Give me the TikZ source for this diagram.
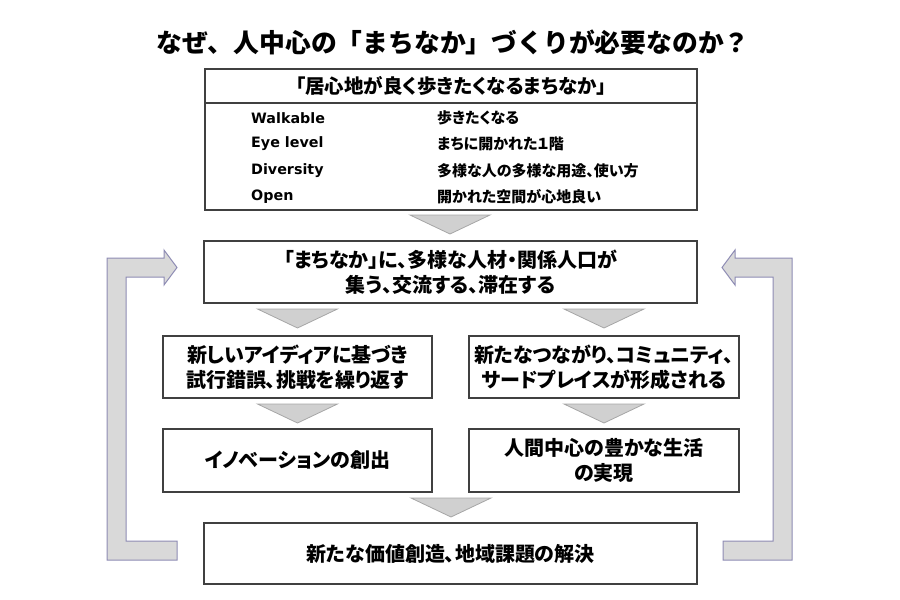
\documentclass[tikz,border=0pt]{standalone}
\usepackage{fontspec}
\setmainfont{Noto Sans CJK JP}[RawFeature=+palt]
\newfontfamily\fullwidth{Noto Sans CJK JP}
\newfontfamily\latinfont{DejaVu Sans}
\usepackage{tikz}
\usetikzlibrary{positioning}
\definecolor{boxline}{HTML}{404040}
\definecolor{trifill}{HTML}{D0D0D0}
\definecolor{triline}{HTML}{A6A6A6}
\definecolor{loopfill}{HTML}{D9D9D9}
\definecolor{loopline}{HTML}{8E8CB4}
\tikzstyle{flowbox}=[rectangle, draw=boxline, line width=1.4pt, fill=white, align=center, inner sep=0pt, font=\fontsize{20}{25}\selectfont\bfseries]
\newcommand{\flowbox}{\node[flowbox]}
\tikzstyle{chevron}=[draw=triline, fill=trifill, line width=0.8pt]
\tikzstyle{loop}=[draw=loopline, fill=loopfill, line width=1pt]

\begin{document}
\begin{tikzpicture}[x=1pt, y=-1pt]
                    \useasboundingbox (0,0) rectangle (900,600);
                    \node (title) at (453,42) [font=\fullwidth\fontsize{25.8}{30}\selectfont\bfseries] {なぜ、人中心の「まちなか」づくりが必要なのか？};
                    % feedback loops
                    \draw[loop] (107,560) -- (177,560) -- (177,541) -- (126,541) -- (126,277) -- (164,277) -- (164,285) -- (177,267.5) -- (164,250) -- (164,258) -- (107,258) -- cycle;
                    \draw[loop] (792,560) -- (723,560) -- (723,541) -- (773,541) -- (773,277) -- (735,277) -- (735,285) -- (722,267.5) -- (735,250) -- (735,258) -- (792,258) -- cycle;
                    % boxes
                    \flowbox (head) at (451,86) [minimum width=492pt, minimum height=34pt, font=\fontsize{19.5}{22}\selectfont\bfseries] {「居心地が良く歩きたくなるまちなか」};
                    \flowbox (list) at (451,156.5) [minimum width=492pt, minimum height=107pt] {};
                    \foreach \en/\jp/\y in {Walkable/歩きたくなる/118, Eye level/まちに開かれた１階/144, Diversity/多様な人の多様な用途、使い方/171, Open/開かれた空間が心地良い/197} {
                        \node (en\y) at (251,\y) [anchor=west, inner sep=0pt, font=\latinfont\fontsize{14.3}{16}\selectfont\bfseries] {\en};
                        \node (jp\y) at (437,\y) [anchor=west, inner sep=0pt, font=\fontsize{15}{16}\selectfont\bfseries] {\jp};
                    }
                    \flowbox (gather) at (450.5,272) [minimum width=493pt, minimum height=62pt] {「まちなか」に、多様な人材・関係人口が\\集う、交流する、滞在する};
                    \flowbox (trial) at (297.5,367) [minimum width=269pt, minimum height=62pt] {新しいアイディアに基づき\\試行錯誤、挑戦を繰り返す};
                    \flowbox (ties) at (604,367) [minimum width=270pt, minimum height=62pt] {新たなつながり、コミュニティ、\\サードプレイスが形成される};
                    \flowbox (innov) at (297.5,460.5) [minimum width=269pt, minimum height=63pt] {イノベーションの創出};
                    \flowbox (life) at (604,460.5) [minimum width=270pt, minimum height=63pt] {人間中心の豊かな生活\\の実現};
                    \flowbox (value) at (450.5,553.5) [minimum width=493pt, minimum height=61pt] {新たな価値創造、地域課題の解決};
                    % chevrons between boxes
                    \foreach \x/\y in {450/215, 297.5/309, 604/309, 297.5/404, 604/404, 451/498}
                        \draw[chevron] (\x-40,\y) -- (\x+40,\y) -- (\x,\y+19) -- cycle;
                \end{tikzpicture}
\end{document}
